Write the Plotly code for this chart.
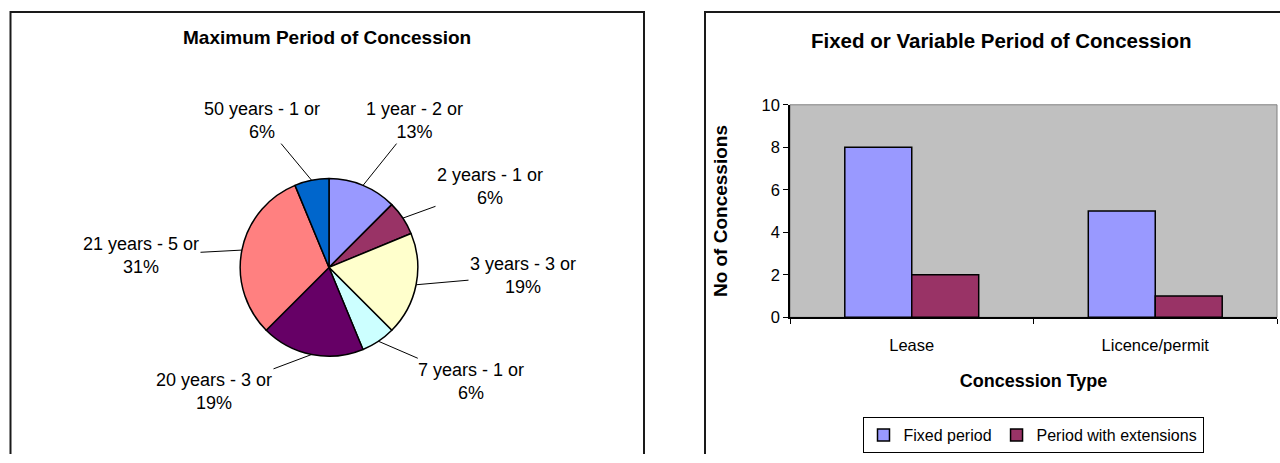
import plotly.graph_objects as go
import math

# ---------------- data ----------------
pie_labels = ["1 year", "2 years", "3 years", "7 years", "20 years", "21 years", "50 years"]
pie_values = [2, 1, 3, 1, 3, 5, 1]

bar_categories = ["Lease", "Licence/permit"]
fixed_period = [8, 5]
period_with_extensions = [2, 1]

# ---------------- styles ----------------
pie_colors = ["#9999FF", "#993366", "#FFFFCC", "#CCFFFF", "#660066", "#FF8080", "#0066CC"]
bar_colors = ["#9999FF", "#993366"]
FONT = "Arial, 'Liberation Sans', sans-serif"
W = 1280
# vertical placement of the drawn figure inside the photographed page
TOP, FIG_H = 8, 446

# pie geometry (pixels)
PIE_CX, PIE_CY, PIE_R = 329, 267, 89
# label centre positions (pixels)
label_pos = [(415, 120), (490, 186), (523, 275), (471, 381), (214, 391), (141, 255), (262, 120)]


def px_x(x):
    return x / W


def px_y(y):
    return 1 - (y - TOP) / FIG_H


fig = go.Figure()

fig.add_trace(go.Pie(
    labels=pie_labels, values=pie_values, sort=False, direction="clockwise",
    rotation=0, textinfo="none", showlegend=False,
    marker=dict(colors=pie_colors, line=dict(color="black", width=1.5)),
    domain=dict(x=[px_x(PIE_CX - PIE_R), px_x(PIE_CX + PIE_R)],
                y=[px_y(PIE_CY + PIE_R), px_y(PIE_CY - PIE_R)]),
))

fig.add_trace(go.Bar(
    x=bar_categories, y=fixed_period, name="Fixed period",
    marker=dict(color=bar_colors[0], line=dict(color="black", width=1.5)),
))
fig.add_trace(go.Bar(
    x=bar_categories, y=period_with_extensions, name="Period with extensions",
    marker=dict(color=bar_colors[1], line=dict(color="black", width=1.5)),
))

annotations = []
total = sum(pie_values)
cum = 0
for lab, v, (lx, ly) in zip(pie_labels, pie_values, label_pos):
    mid = (cum + v / 2) / total * 2 * math.pi
    cum += v
    ex = PIE_CX + PIE_R * math.sin(mid)
    ey = PIE_CY - PIE_R * math.cos(mid)
    pct = int(v / total * 100 + 0.5)
    annotations.append(dict(
        x=px_x(ex), y=px_y(ey), xref="paper", yref="paper",
        text=f"{lab} - {v} or<br>{pct}%", showarrow=True, arrowhead=0,
        arrowwidth=1, arrowcolor="black", standoff=0, startstandoff=0,
        ax=lx - ex, ay=ly - ey, align="center",
        font=dict(family=FONT, size=18, color="black"),
    ))

annotations.append(dict(
    x=px_x(327), y=px_y(37), xref="paper", yref="paper", showarrow=False,
    xanchor="center", yanchor="middle",
    text="<b>Maximum Period of Concession</b>",
    font=dict(family=FONT, size=19, color="black")))
annotations.append(dict(
    x=px_x(1001), y=px_y(40), xref="paper", yref="paper", showarrow=False,
    xanchor="center", yanchor="middle",
    text="<b>Fixed or Variable Period of Concession</b>",
    font=dict(family=FONT, size=20.5, color="black")))


def panel_path(x0, x1, y_top, right_edge=True):
    p = f"M {px_x(x0)},0 L {px_x(x0)},{px_y(y_top)} L {px_x(x1)},{px_y(y_top)}"
    if right_edge:
        p += f" L {px_x(x1)},0"
    return p


shapes = [
    dict(type="path", xref="paper", yref="paper", path=panel_path(10.5, 644, 11),
         line=dict(color="#1a1a1a", width=2), layer="below"),
    dict(type="path", xref="paper", yref="paper", path=panel_path(705, 1280, 11, False),
         line=dict(color="#1a1a1a", width=2), layer="below"),
    dict(type="rect", xref="x domain", yref="y domain", x0=0, x1=1, y0=0, y1=1,
         line=dict(color="#808080", width=1), layer="below"),
]

fig.update_layout(
    autosize=True, margin=dict(l=0, r=0, t=0, b=0),
    paper_bgcolor="white", plot_bgcolor="#C0C0C0",
    font=dict(family=FONT, color="black"),
    barmode="group", bargap=0.45, bargroupgap=0,
    annotations=annotations, shapes=shapes,
    legend=dict(orientation="h", x=px_x(1033), xanchor="center",
                y=px_y(417), yanchor="top", bordercolor="black", borderwidth=1,
                bgcolor="white", font=dict(family=FONT, size=16)),
    xaxis=dict(domain=[px_x(790), px_x(1277)], range=[-0.5, 1.5],
               showline=True, linecolor="black", linewidth=1.5,
               ticks="outside", tickson="boundaries", ticklen=5, tickcolor="black",
               ticklabelstandoff=12, showgrid=False,
               tickfont=dict(family=FONT, size=16.5),
               title=dict(text="<b>Concession Type</b>", standoff=22,
                          font=dict(family=FONT, size=18))),
    yaxis=dict(domain=[px_y(317), px_y(104)], range=[0, 10], dtick=2,
               showline=True, linecolor="black", linewidth=1.5,
               ticks="outside", ticklen=5, tickcolor="black",
               showgrid=False, zeroline=False,
               tickfont=dict(family=FONT, size=16.5),
               title=dict(text="<b>No of Concessions</b>", standoff=29,
                          font=dict(family=FONT, size=19))),
)

fig.write_html(
    "out.html",
    default_width="100vw", default_height="100vh",
    config={"displayModeBar": False},
    post_script=("document.documentElement.style.margin='0px';"
                 "document.body.style.margin='0px';"
                 "document.documentElement.style.overflow='hidden';"
                 "document.body.style.overflow='hidden';"),
)
